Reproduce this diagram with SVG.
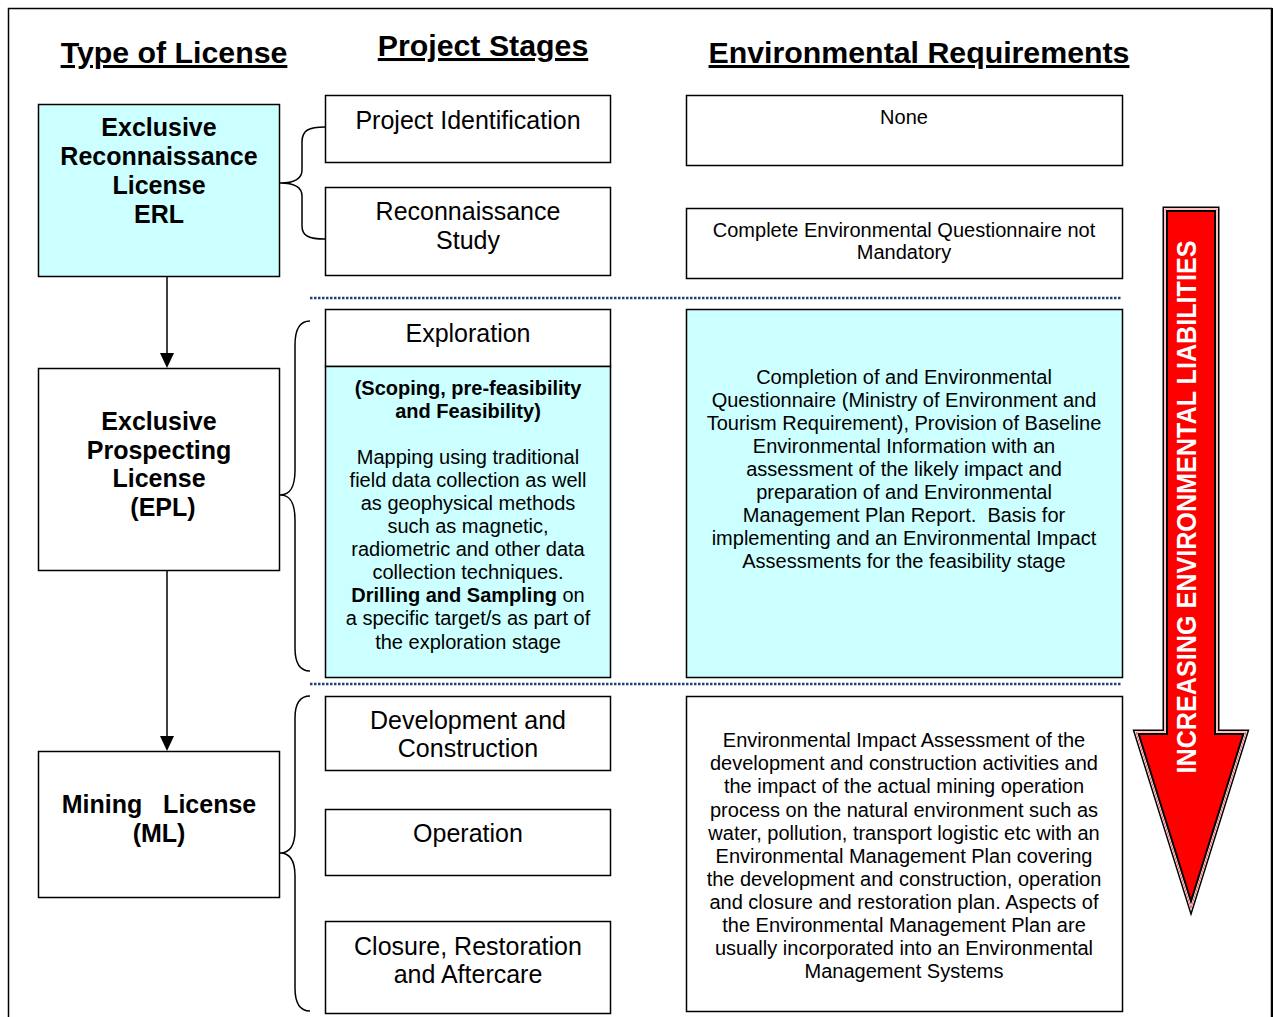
<svg xmlns="http://www.w3.org/2000/svg" width="1277" height="1017" viewBox="0 0 1277 1017">
<style>
text{font-family:"Liberation Sans",Arial,sans-serif;fill:#000;text-anchor:middle}
.hdr{font-size:30.3px;font-weight:bold;text-decoration:underline}
.lic{font-size:25px;font-weight:bold}
.stg{font-size:25px}
.env{font-size:20px}
.b{font-weight:bold}
.box{fill:#fff;stroke:#000;stroke-width:1.5}
.cyan{fill:#ccffff;stroke:#000;stroke-width:1.5}
.brace{fill:none;stroke:#000;stroke-width:1.5}
.conn{stroke:#000;stroke-width:1.5;fill:none}
.dot{stroke:#1f3f7a;stroke-width:2.5;stroke-dasharray:2.5 1.5;fill:none}
</style>
<rect x="8.5" y="8.5" width="1263" height="1030" fill="#fff" stroke="#000" stroke-width="1.5"/>
<line x1="1272" y1="8" x2="1272" y2="1017" stroke="#000" stroke-width="2"/>

<g id="headers">
<text class="hdr" x="174" y="63">Type of License</text>
<text class="hdr" x="483" y="56">Project Stages</text>
<text class="hdr" x="919" y="63">Environmental Requirements</text>
</g>

<g id="connectors">
<line class="conn" x1="167" y1="277" x2="167" y2="353"/>
<path d="M160,353 L174,353 L167,368 Z" fill="#000"/>
<line class="conn" x1="167" y1="571" x2="167" y2="736"/>
<path d="M160,736 L174,736 L167,751 Z" fill="#000"/>
<path class="brace" d="M325,127 C309,127 302,130 302,142 L302,170 C302,180 292,183 280,183 C292,183 302,186 302,196 L302,226 C302,236 309,239 325,239"/>
<path class="brace" d="M310,321 C300,321 295,330 295,345 L295,470 C295,488 290,495 280,495 C290,495 295,502 295,520 L295,648 C295,664 300,671 310,671"/>
<path class="brace" d="M310,696 C300,696 295,704 295,718 L295,830 C295,846 290,853 280,853 C290,853 295,860 295,876 L295,988 C295,1004 300,1011 310,1011"/>
<line class="dot" x1="310" y1="298" x2="1122" y2="298"/>
<line class="dot" x1="310" y1="684" x2="1122" y2="684"/>
</g>

<g id="erl">
<rect class="cyan" x="38.5" y="104.5" width="241" height="172"/>
<text class="lic" x="159" y="136">Exclusive</text>
<text class="lic" x="159" y="165">Reconnaissance</text>
<text class="lic" x="159" y="194">License</text>
<text class="lic" x="159" y="223">ERL</text>
</g>

<g id="epl">
<rect class="box" x="38.5" y="368.5" width="241" height="202"/>
<text class="lic" x="159" y="430">Exclusive</text>
<text class="lic" x="159" y="459">Prospecting</text>
<text class="lic" x="159" y="487">License</text>
<text class="lic" x="163" y="516">(EPL)</text>
</g>

<g id="ml">
<rect class="box" x="38.5" y="751.5" width="241" height="146"/>
<text class="lic" x="159" y="813" xml:space="preserve">Mining   License</text>
<text class="lic" x="159" y="842">(ML)</text>
</g>

<g id="stage-identification">
<rect class="box" x="325.5" y="95.5" width="285" height="67"/>
<text class="stg" x="468" y="129">Project Identification</text>
</g>

<g id="stage-reconnaissance">
<rect class="box" x="325.5" y="187.5" width="285" height="88"/>
<text class="stg" x="468" y="220">Reconnaissance</text>
<text class="stg" x="468" y="249">Study</text>
</g>

<g id="stage-exploration">
<rect class="box" x="325.5" y="309.5" width="285" height="57"/>
<text class="stg" x="468" y="342">Exploration</text>
<rect class="cyan" x="325.5" y="366.5" width="285" height="311"/>
<text class="env b" x="468" y="395">(Scoping, pre-feasibility</text>
<text class="env b" x="468" y="418">and Feasibility)</text>
<text class="env" x="468" y="464">Mapping using traditional</text>
<text class="env" x="468" y="487">field data collection as well</text>
<text class="env" x="468" y="510">as geophysical methods</text>
<text class="env" x="468" y="533">such as magnetic,</text>
<text class="env" x="468" y="556">radiometric and other data</text>
<text class="env" x="468" y="579">collection techniques.</text>
<text class="env" x="468" y="602"><tspan class="b">Drilling and Sampling</tspan> on</text>
<text class="env" x="468" y="625">a specific target/s as part of</text>
<text class="env" x="468" y="649">the exploration stage</text>
</g>

<g id="stage-development">
<rect class="box" x="325.5" y="696.5" width="285" height="74"/>
<text class="stg" x="468" y="729">Development and</text>
<text class="stg" x="468" y="757">Construction</text>
</g>

<g id="stage-operation">
<rect class="box" x="325.5" y="809.5" width="285" height="66"/>
<text class="stg" x="468" y="842">Operation</text>
</g>

<g id="stage-closure">
<rect class="box" x="325.5" y="921.5" width="285" height="92"/>
<text class="stg" x="468" y="955">Closure, Restoration</text>
<text class="stg" x="468" y="983">and Aftercare</text>
</g>

<g id="env-none">
<rect class="box" x="686.5" y="95.5" width="436" height="70"/>
<text class="env" x="904" y="124">None</text>
</g>

<g id="env-questionnaire">
<rect class="box" x="686.5" y="208.5" width="436" height="70"/>
<text class="env" x="904" y="237">Complete Environmental Questionnaire not</text>
<text class="env" x="904" y="259">Mandatory</text>
</g>

<g id="env-exploration">
<rect class="cyan" x="686.5" y="309.5" width="436" height="368"/>
<text class="env" x="904" y="384">Completion of and Environmental</text>
<text class="env" x="904" y="407">Questionnaire (Ministry of Environment and</text>
<text class="env" x="904" y="430">Tourism Requirement), Provision of Baseline</text>
<text class="env" x="904" y="453">Environmental Information with an</text>
<text class="env" x="904" y="476">assessment of the likely impact and</text>
<text class="env" x="904" y="499">preparation of and Environmental</text>
<text class="env" x="904" y="522" xml:space="preserve">Management Plan Report.  Basis for</text>
<text class="env" x="904" y="545">implementing and an Environmental Impact</text>
<text class="env" x="904" y="568">Assessments for the feasibility stage</text>
</g>

<g id="env-mining">
<rect class="box" x="686.5" y="696.5" width="436" height="315"/>
<text class="env" x="904" y="747">Environmental Impact Assessment of the</text>
<text class="env" x="904" y="770">development and construction activities and</text>
<text class="env" x="904" y="793">the impact of the actual mining operation</text>
<text class="env" x="904" y="817">process on the natural environment such as</text>
<text class="env" x="904" y="840">water, pollution, transport logistic etc with an</text>
<text class="env" x="904" y="863">Environmental Management Plan covering</text>
<text class="env" x="904" y="886">the development and construction, operation</text>
<text class="env" x="904" y="909">and closure and restoration plan. Aspects of</text>
<text class="env" x="904" y="932">the Environmental Management Plan are</text>
<text class="env" x="904" y="955">usually incorporated into an Environmental</text>
<text class="env" x="904" y="978">Management Systems</text>
</g>

<g id="liability-arrow">
<path d="M1168,212 H1214 V735 H1242 L1191,898 L1140,735 H1168 Z" fill="none" stroke="#000" stroke-width="11"/>
<path d="M1168,212 H1214 V735 H1242 L1191,898 L1140,735 H1168 Z" fill="none" stroke="#fff" stroke-width="8"/>
<path d="M1168,212 H1214 V735 H1242 L1191,898 L1140,735 H1168 Z" fill="none" stroke="#ff0000" stroke-width="6.5"/>
<path d="M1168,212 H1214 V735 H1242 L1191,898 L1140,735 H1168 Z" fill="none" stroke="#fff" stroke-width="5.5"/>
<path d="M1168,212 H1214 V735 H1242 L1191,898 L1140,735 H1168 Z" fill="none" stroke="#000" stroke-width="4"/>
<path d="M1168,212 H1214 V735 H1242 L1191,898 L1140,735 H1168 Z" fill="#ff0000"/>
<text transform="translate(1196,507) rotate(-90)" font-size="28" font-weight="bold" style="fill:#fff" textLength="533" lengthAdjust="spacingAndGlyphs">INCREASING ENVIRONMENTAL LIABILITIES</text>
</g>
</svg>
